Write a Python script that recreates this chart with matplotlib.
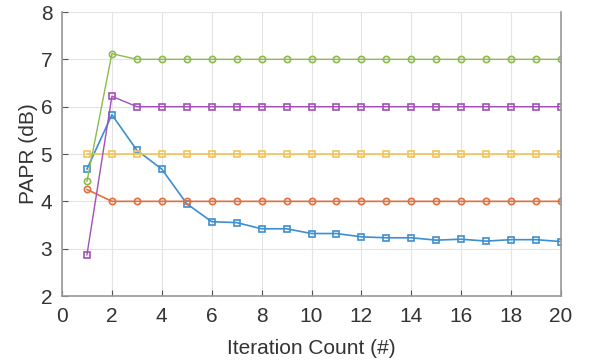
import numpy as np
import matplotlib
matplotlib.use('Agg')
from matplotlib import pyplot as plt

plt.rcParams['font.family'] = ['Liberation Sans', 'DejaVu Sans']

iters = list(range(1, 21))
blue = [4.68, 5.83, 5.08, 4.68, 3.95, 3.57, 3.55, 3.42, 3.42, 3.32,
        3.32, 3.25, 3.23, 3.23, 3.18, 3.20, 3.16, 3.19, 3.19, 3.15]
orange = [4.25] + [4.0] * 19
yellow = [5.0] * 20
purple = [2.87, 6.22] + [6.0] * 18
green = [4.42, 7.12] + [7.0] * 18

fig = plt.figure(figsize=(5.94, 3.64), dpi=100)
ax = fig.add_axes([62 / 594, 68 / 364, 499 / 594, 284 / 364])

ax.plot(iters, blue, color='#3d8fd0', marker='s', ms=4.5, mfc='none', mew=1.2, lw=1.2)
ax.plot(iters, orange, color='#e0703f', marker='o', ms=4.5, mfc='none', mew=1.2, lw=1.2)
ax.plot(iters, yellow, color='#f2c35a', marker='s', ms=4.5, mfc='none', mew=1.2, lw=1.2)
ax.plot(iters, purple, color='#a44fb8', marker='s', ms=4.5, mfc='none', mew=1.2, lw=1.0)
ax.plot(iters, green, color='#8dbb4c', marker='o', ms=4.5, mfc='none', mew=1.2, lw=1.0)

ax.set_xlim(0, 20)
ax.set_ylim(2, 8)
ax.set_xticks(range(0, 21, 2))
ax.set_yticks(range(2, 9))
ax.grid(True, color='#e3e3e3', lw=0.8)
ax.set_axisbelow(True)
ax.tick_params(direction='in', length=4, labelsize=15, color='#555555',
               labelcolor='#333333', top=False, right=False)
ax.tick_params(axis='x', pad=8)
ax.tick_params(axis='y', pad=7)
ax.spines['top'].set_visible(False)
for s in ['left', 'bottom', 'right']:
    ax.spines[s].set_color('#999999')
    ax.spines[s].set_linewidth(1.2)

ax.set_xlabel('Iteration Count (#)', fontsize=15, color='#333333', labelpad=9)
ax.set_ylabel('PAPR (dB)', fontsize=15, color='#333333', labelpad=2)

fig.savefig('out.png', dpi=100)
